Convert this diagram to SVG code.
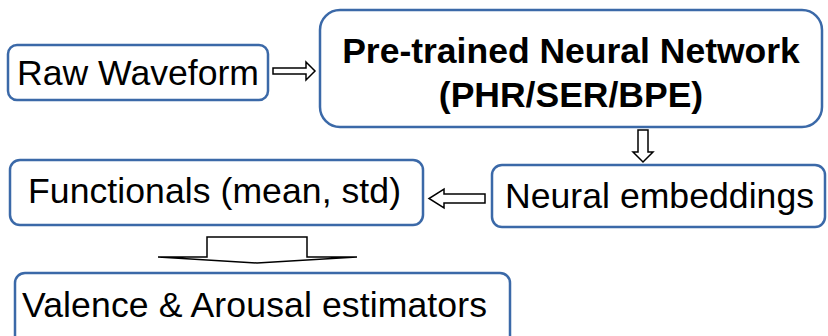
<svg xmlns="http://www.w3.org/2000/svg" width="828" height="336" viewBox="0 0 828 336">
<style>
.box{fill:#fff;stroke:#3b69a8;stroke-width:2.5}
.t{font-family:"Liberation Sans",Arial,sans-serif;font-size:35.6px;fill:#000}
.b{font-weight:bold;text-anchor:middle;font-size:35.5px}
.arr{fill:#fff;stroke:#000;stroke-width:1.5;stroke-linejoin:miter}
</style>
<rect width="828" height="336" fill="#fff"/>
<g id="raw">
<rect class="box" x="8" y="45" width="260" height="55" rx="9"/>
<text class="t" x="17" y="85" textLength="242">Raw Waveform</text>
</g>
<g id="pretrained">
<rect class="box" x="320" y="10" width="502" height="117" rx="20"/>
<text class="t b" x="571" y="63">Pre-trained Neural Network</text>
<text class="t b" x="571" y="107">(PHR/SER/BPE)</text>
</g>
<g id="embeddings">
<rect class="box" x="492" y="165" width="333" height="62" rx="10"/>
<text class="t" x="505" y="208" textLength="309">Neural embeddings</text>
</g>
<g id="functionals">
<rect class="box" x="10" y="160" width="413" height="65" rx="10"/>
<text class="t" x="28" y="203" textLength="373">Functionals (mean, std)</text>
</g>
<g id="estimators">
<rect class="box" x="15" y="273" width="495" height="80" rx="10"/>
<text class="t" x="22" y="317" textLength="465">Valence &amp; Arousal estimators</text>
</g>
<g id="connectors">
<path class="arr" d="M273,68 L306,68 L306,62 L315,71 L306,80 L306,74 L273,74 Z"/>
<path class="arr" d="M638,130 L648,130 L648,152 L653,152 L643,162 L633,152 L638,152 Z"/>
<path class="arr" d="M485,194 L444,194 L444,189 L429,198.5 L444,208 L444,203 L485,203 Z"/>
<path class="arr" d="M207,257 L207,237 L307,237 L307,257 L357,257 L257,263 L158,257 Z"/>
</g>
</svg>
